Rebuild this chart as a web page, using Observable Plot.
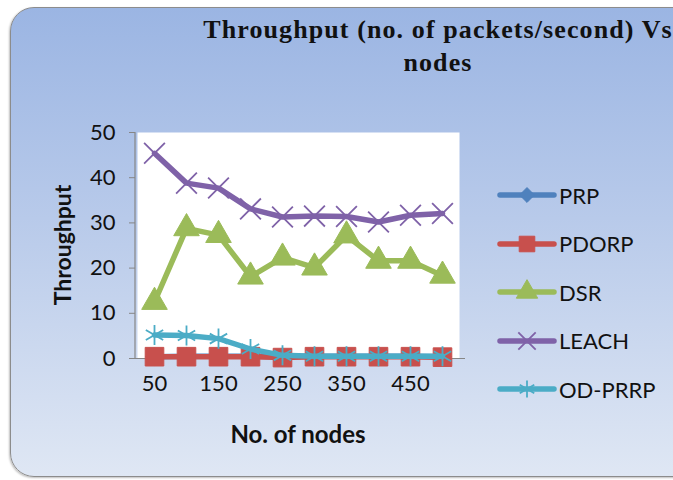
<!DOCTYPE html>
<html>
<head>
<meta charset="utf-8">
<script src="https://cdn.jsdelivr.net/npm/d3@7"></script>
<script src="https://cdn.jsdelivr.net/npm/@observablehq/plot@0.6"></script>
<style>
  html, body { margin: 0; padding: 0; background: #ffffff; }
  #chart { position: relative; width: 673px; height: 480px; overflow: hidden; font-family: Lato, "Open Sans", sans-serif; }
  #bg { position: absolute; left: 10px; top: 7px; width: 720px; height: 468px; border: 1.5px solid #8c8c8c; border-radius: 24px;
        background: linear-gradient(to bottom, #9bb5e3 0%, #b8caea 45%, #dfe7f4 100%); box-shadow: -1px 1px 2px rgba(0,0,0,0.25); }
  #title { position: absolute; left: 203px; top: 13px; width: 470px; text-align: center; white-space: nowrap;
           font-family: "Liberation Serif", serif; font-weight: bold; font-size: 26px; letter-spacing: 1.1px; line-height: 33px; color: #111; }
  #plot { position: absolute; left: 0; top: 0; }
  .axt { position: absolute; font-weight: bold; color: #111; white-space: nowrap; }
  #ylab { left: 62px; top: 245px; font-size: 23px; transform: translate(-50%, -50%) rotate(-90deg); }
  #xlab { left: 298px; top: 433px; font-size: 24px; transform: translate(-50%, -50%); }
  .leg { position: absolute; left: 496px; height: 30px; display: flex; align-items: center; font-size: 22px; color: #111; }
  .leg svg { display: block; margin-right: 2px; }
</style>
</head>
<body>
<div id="chart">
  <div id="bg"></div>
  <div id="title">Throughput (no. of packets/second) Vs<br>nodes</div>
  <div id="plot"></div>
  <div class="axt" id="ylab">Throughput</div>
  <div class="axt" id="xlab">No. of nodes</div>
</div>
<script>
// ---- data ----
const nodes  = [50, 100, 150, 200, 250, 300, 350, 400, 450, 500];
const prp    = [0.4, 0.5, 0.5, 0.5, 0.4, 0.5, 0.5, 0.5, 0.5, 0.4];
const pdorp  = [0.4, 0.4, 0.4, 0.4, 0.2, 0.4, 0.4, 0.4, 0.4, 0.3];
const dsr    = [12.5, 28.8, 27.3, 18.1, 22.3, 20.1, 27.2, 21.6, 21.6, 18.3];
const leach  = [45.4, 38.8, 37.7, 33.1, 31.3, 31.5, 31.4, 30.2, 31.7, 32.1];
const odprrp = [5.2, 5.1, 4.4, 2.1, 0.7, 0.5, 0.5, 0.5, 0.5, 0.5];
const yTicks = [0, 10, 20, 30, 40, 50];
const xTicks = [50, 150, 250, 350, 450];
const seriesNames = ["PRP", "PDORP", "DSR", "LEACH", "OD-PRRP"];

// ---- styles per series ----
const styles = {
  "PRP":     {color: "#4f81bd", symbol: "diamond2", r: 8,    filled: true},
  "PDORP":   {color: "#c8504d", symbol: "square",   r: 10.5, filled: true},
  "DSR":     {color: "#9bbb59", symbol: "triangle", r: 9.5,  filled: true},
  "LEACH":   {color: "#7f62a8", symbol: "times",    r: 9.5,  filled: false},
  "OD-PRRP": {color: "#4bacc6", symbol: "asterisk", r: 9.5,  filled: false}
};
const valuesBy = {"PRP": prp, "PDORP": pdorp, "DSR": dsr, "LEACH": leach, "OD-PRRP": odprrp};

const marks = [
  Plot.frame({fill: "white", stroke: "none"}),
  Plot.ruleY([0], {stroke: "#868686", strokeWidth: 1.2, insetRight: -6, insetLeft: -2}),
  (index, scales, values, dims) => {
    const x0 = dims.marginLeft - 2;
    return d3.create("svg:line")
      .attr("x1", x0).attr("x2", x0)
      .attr("y1", dims.marginTop).attr("y2", dims.height - dims.marginBottom)
      .attr("stroke", "#868686").attr("stroke-width", 1.2).node();
  },
  Plot.axisY({ticks: yTicks, tickSize: 6, tickPadding: 14, dx: -2, fontSize: 22, stroke: "#868686", color: "#111", label: null}),
  Plot.axisX({ticks: xTicks, tickSize: 0, tickPadding: 17, fontSize: 22, color: "#111", label: null})
];

for (const name of seriesNames) {
  const st = styles[name];
  const data = nodes.map((n, i) => ({nodes: n, value: valuesBy[name][i]}));
  marks.push(Plot.line(data, {x: "nodes", y: "value", stroke: st.color, strokeWidth: 5.5, strokeLinejoin: "round", strokeLinecap: "round"}));
  if (st.filled) {
    marks.push(Plot.dot(data, {x: "nodes", y: "value", symbol: st.symbol, r: st.r, fill: st.color, stroke: st.color, strokeWidth: 1}));
  } else {
    marks.push(Plot.dot(data, {x: "nodes", y: "value", symbol: st.symbol, r: st.r, stroke: st.color, strokeWidth: 1.8, fill: "none"}));
  }
}

const chart = Plot.plot({
  width: 673,
  height: 480,
  marginLeft: 137,
  marginRight: 214,
  marginTop: 132,
  marginBottom: 122,
  style: {background: "transparent", fontFamily: "Lato, 'Open Sans', sans-serif", overflow: "visible"},
  x: {type: "point", domain: nodes, padding: 0.5, axis: null},
  y: {domain: [0, 50], axis: null},
  marks
});
document.getElementById("plot").appendChild(chart);

// ---- legend ----
const legendY = [195, 243.5, 292, 340.5, 389];
const chartDiv = document.getElementById("chart");
const symMap = {diamond2: d3.symbolDiamond2, square: d3.symbolSquare, triangle: d3.symbolTriangle, times: d3.symbolTimes, asterisk: d3.symbolAsterisk};
seriesNames.forEach((name, i) => {
  const st = styles[name];
  const item = document.createElement("div");
  item.className = "leg";
  item.style.top = (legendY[i] - 15) + "px";
  const svg = d3.create("svg").attr("width", 61).attr("height", 30);
  svg.append("line").attr("x1", 4).attr("x2", 58).attr("y1", 15).attr("y2", 15)
    .attr("stroke", st.color).attr("stroke-width", 5.5).attr("stroke-linecap", "round");
  const size = Math.PI * st.r * st.r * 0.7;
  svg.append("path").attr("transform", "translate(31,15)")
    .attr("d", d3.symbol(symMap[st.symbol], size)())
    .attr("fill", st.filled ? st.color : "none")
    .attr("stroke", st.color).attr("stroke-width", st.filled ? 1 : 1.8);
  item.appendChild(svg.node());
  const span = document.createElement("span");
  span.textContent = name;
  item.appendChild(span);
  chartDiv.appendChild(item);
});
</script>
</body>
</html>
